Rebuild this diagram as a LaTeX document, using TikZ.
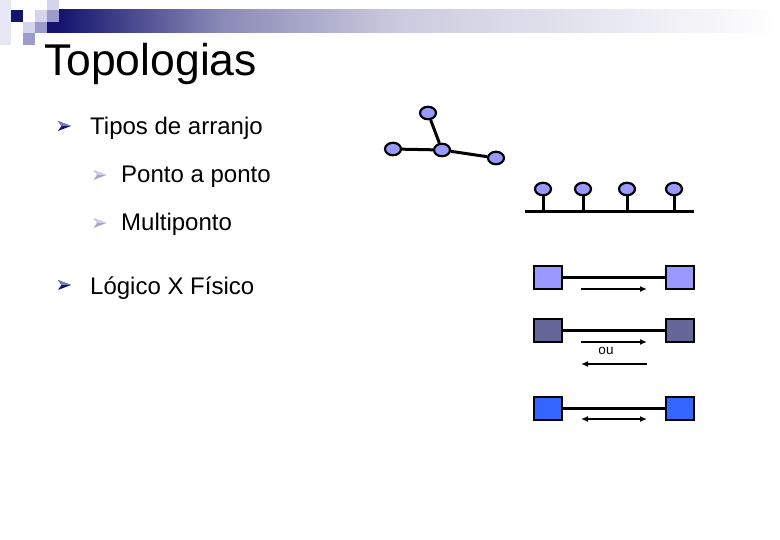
\documentclass[tikz,border=0pt]{standalone}
\usepackage{fontspec}
\setmainfont{Liberation Sans}
\usetikzlibrary{shapes.geometric,arrows.meta}

\definecolor{navy}{HTML}{14146E}
\definecolor{lavlight}{HTML}{D4D4EC}
\definecolor{lavmid}{HTML}{9C9CCC}
\definecolor{lavpale}{HTML}{E6E6F4}
\definecolor{hostblue}{HTML}{9999FF}
\definecolor{hostgrey}{HTML}{666699}
\definecolor{hostbright}{HTML}{3366FF}
\definecolor{bulletsub}{HTML}{A8A8CC}

% arrowhead bullet: x, y, colour
\newcommand{\bulletarrow}[3]{%
  \fill[#3] (#1+6.5,#2) -- (#1-6.5,#2-5) -- (#1-3,#2) -- (#1-6.5,#2+5) -- cycle;
  \fill[#3!55!white] (#1+6.5,#2) -- (#1-6.5,#2-5) -- (#1-3,#2) -- cycle;
}

\begin{document}
\begin{tikzpicture}[x=1pt, y=-1pt,
  item/.style={font=\fontsize{24}{28}\selectfont, inner sep=0pt, anchor=base west},
  host/.style={ellipse, draw=black, line width=2.2pt, fill=hostblue,
    minimum width=16pt, minimum height=12.5pt, inner sep=0pt},
  box/.style={draw=black, line width=2pt, minimum width=28pt,
    minimum height=23pt, inner sep=0pt},
  link/.style={line width=3pt},
  flow/.style={line width=2pt, -{Latex[length=7pt,width=6pt]}}]

  \useasboundingbox (0,0) rectangle (780,540);

  % Header: small squares and fading bar
  \fill[lavpale] (0,0) rectangle (11,45);
  \fill[navy] (11,10) rectangle (23,22);
  \fill[lavlight] (23,22) rectangle (35,33);
  \fill[lavmid] (23,33) rectangle (35,45);
  \fill[lavlight] (35,10) rectangle (47,22);
  \fill[lavmid] (35,22) rectangle (47,33);
  \fill[lavlight] (47,0) rectangle (59,10);
  \fill[lavmid] (47,10) rectangle (59,22);
  \fill[navy] (47,22) rectangle (59,33);
  \shade[left color=navy, right color=navy!50!white] (59,10) rectangle (221,33);
  \shade[left color=navy!50!white, right color=navy!22!white] (220,10) rectangle (401,33);
  \shade[left color=navy!22!white, right color=white] (400,10) rectangle (780,33);

  % Title and items
  \node[item, font=\fontsize{44.5}{48}\selectfont] (title) at (44,76) {Topologias};

  \bulletarrow{64.5}{126}{navy}
  \node[item] (tipos) at (90,134.5) {Tipos de arranjo};
  \bulletarrow{100}{175}{bulletsub}
  \node[item] (ponto) at (121,182.5) {Ponto a ponto};
  \bulletarrow{100}{223}{bulletsub}
  \node[item] (multi) at (121,230.5) {Multiponto};
  \bulletarrow{64.5}{285}{navy}
  \node[item] (logico) at (90,294.5) {Lógico X Físico};

  % Point to point (star)
  \node[host] (top) at (428,113) {};
  \node[host] (left) at (393,149) {};
  \node[host] (hub) at (442,150) {};
  \node[host] (right) at (496,158) {};
  \draw[link] (left) -- (hub);
  \draw[link] (top) -- (hub);
  \draw[link] (hub) -- (right);

  % Multipoint (bus)
  \coordinate (busL) at (525,212);
  \coordinate (busR) at (694,212);
  \draw[link] (busL) -- (busR);
  \foreach \name/\x in {m1/543, m2/583, m3/627, m4/674} {
    \node[host] (\name) at (\x,189) {};
    \draw[link] (\name.south) -- (\name.south |- busL);
  }

  % Logical x physical
  \node[box, fill=hostblue] (a1) at (548,277.5) {};
  \node[box, fill=hostblue] (b1) at (680,277.5) {};
  \draw[link] (a1) -- (b1);
  \coordinate (f1s) at (581,289);
  \coordinate (f1e) at (647,289);
  \draw[flow] (f1s) -- (f1e);

  \node[box, fill=hostgrey] (a2) at (548,331) {};
  \node[box, fill=hostgrey] (b2) at (680,331) {};
  \draw[link] (a2) -- (b2);
  \coordinate (f2s) at (581,342);
  \coordinate (f2e) at (647,342);
  \draw[flow] (f2s) -- (f2e);
  \node[font=\fontsize{13.5}{15}\selectfont, inner sep=0pt] (ou) at (606,351) {ou};
  \coordinate (f3s) at (647,364);
  \coordinate (f3e) at (581,364);
  \draw[flow] (f3s) -- (f3e);

  \node[box, fill=hostbright] (a3) at (548,408) {};
  \node[box, fill=hostbright] (b3) at (680,408) {};
  \draw[link] (a3) -- (b3);
  \coordinate (f4s) at (581,419);
  \coordinate (f4e) at (647,419);
  \draw[flow, {Latex[length=7pt,width=6pt]}-{Latex[length=7pt,width=6pt]}] (f4s) -- (f4e);
\end{tikzpicture}
\end{document}
